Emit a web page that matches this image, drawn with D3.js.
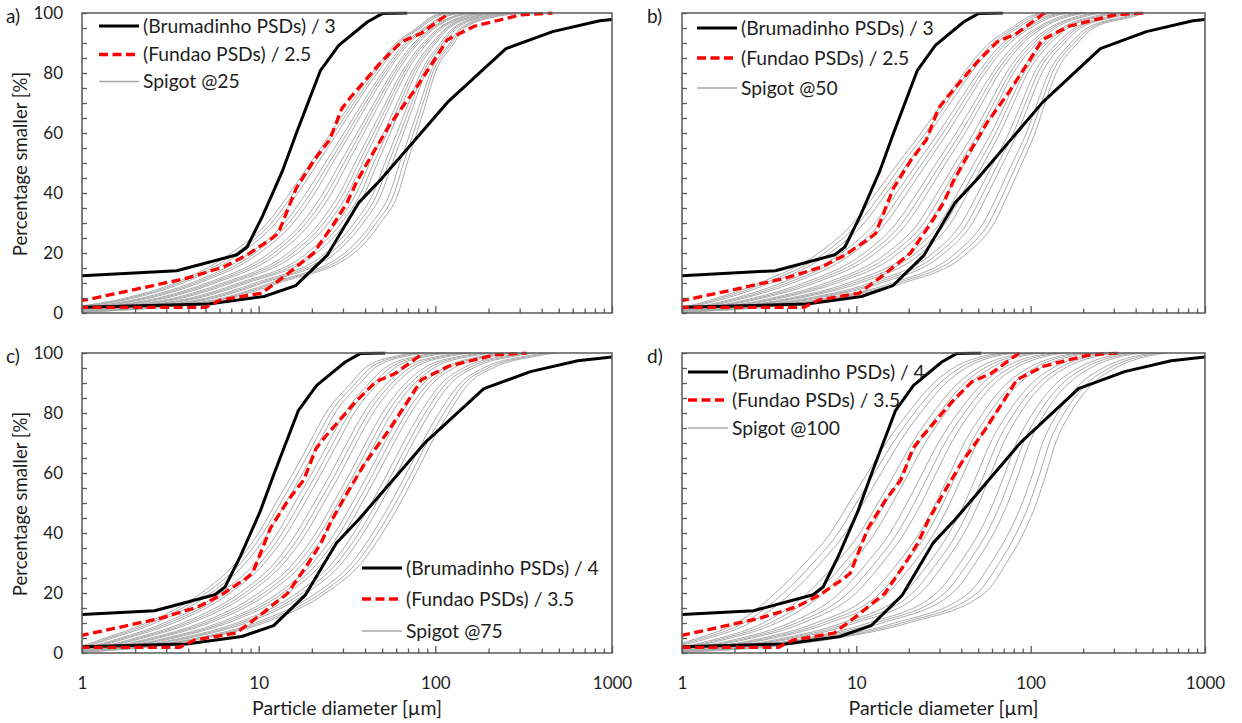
<!DOCTYPE html>
<html><head><meta charset="utf-8">
<script src="https://cdn.jsdelivr.net/npm/d3@7"></script>
<style>
html,body{margin:0;padding:0;background:#fff;}
svg text{font-family:Lato,"Open Sans",sans-serif;fill:#1e1e1e;}
</style></head><body>
<svg id="chart" width="1242" height="723"></svg>
<script>
// ---------------- DATA ----------------
// Base (undivided) PSDs: diameters [µm] and percentage smaller [%]
const brumFineD   = [1, 3, 10.3, 22.6, 25.8, 31.5, 40.8, 49.5, 67.2, 85.2, 123.6, 150, 208];
const brumFineP   = [11.0, 12.4, 14.1, 19.4, 22, 32.2, 47.2, 60.6, 80.9, 89.2, 97, 99.8, 100];
const brumCoarseD = [1, 3, 15.6, 32.1, 48.6, 73.2, 110.7, 147, 351, 753, 1383, 2559, 4000];
const brumCoarseP = [1.3, 1.9, 3.0, 5.5, 9.1, 19.2, 36.8, 44.4, 70.2, 88.1, 93.8, 97.4, 98.7];
const fundFineD   = [1, 2.5, 4.7, 9.8, 15.9, 21.5, 29.8, 32.3, 40.8, 51.5, 63, 74, 82, 124, 161, 208, 300];
const fundFineP   = [3.0, 4.1, 7.5, 11.6, 15.4, 19.3, 24.9, 26.6, 41.6, 51, 57.7, 68.2, 71.6, 83.8, 90.4, 93.2, 100];
const fundCoarseD = [1, 2.5, 12.5, 15.2, 26, 36, 51, 67, 79, 90, 108, 140, 189, 245, 292, 415, 762, 1150];
const fundCoarseP = [1.5, 1.9, 1.9, 4.3, 6.6, 12.8, 19.9, 30, 36.7, 43.9, 52.2, 63.3, 73.9, 84, 91.1, 95.6, 99.4, 100];

// Divisors shown in the legends
const brumDivisors = [3, 3, 4, 4];
const fundDivisors = [2.5, 2.5, 3.5, 3.5];

// Spigot curves: diameter [µm] at which each percentage level is reached
const spigotPct = [0.3, 2, 5, 10, 20, 30, 40, 50, 60, 70, 80, 90, 95, 99, 100];

const spigot25 = [
 [.398,.891,1.77,3.36,7.0,11.2,15.0,19.6,25.6,33.3,44.0,60.0,78.5,97,110],
 [.412,.934,1.87,3.54,7.45,11.8,15.8,20.6,26.7,34.6,45.4,61.8,80.4,100,115],
 [.427,.977,1.97,3.73,7.92,12.5,16.7,21.6,27.9,35.9,46.9,63.6,82.3,104,120],
 [.458,1.07,2.19,4.14,8.95,14.0,18.6,23.8,30.4,38.7,49.9,67.4,86.4,111,131],
 [.474,1.12,2.31,4.36,9.52,14.8,19.7,25.0,31.8,40.2,51.5,69.4,88.5,114,137],
 [.491,1.17,2.43,4.59,10.1,15.7,20.8,26.2,33.2,41.7,53.1,71.5,90.6,118,144],
 [.527,1.29,2.70,5.10,11.5,17.6,23.2,28.9,36.1,45.0,56.6,75.7,95.0,127,157],
 [.546,1.35,2.85,5.38,12.2,18.6,24.5,30.4,37.7,46.7,58.4,78.0,97.3,131,164],
 [.566,1.41,3.0,5.66,13.0,19.7,25.9,31.9,39.4,48.5,60.3,80.3,99.7,135,172],
 [.607,1.55,3.33,6.28,14.7,22.1,28.8,35.1,42.9,52.3,64.2,85.1,105,145,188],
 [.629,1.62,3.51,6.62,15.6,23.4,30.4,36.9,44.8,54.3,66.2,87.6,107,150,196],
 [.651,1.70,3.70,6.97,16.6,24.8,32.1,38.7,46.8,56.4,68.3,90.2,110,155,205],
 [.699,1.86,4.11,7.74,18.8,27.7,35.8,42.6,51.0,60.8,72.8,95.6,115,165,224],
 [.724,1.95,4.33,8.16,20.0,29.4,37.9,44.8,53.3,63.1,75.1,98.3,117,171,234],
 [.750,2.04,4.56,8.59,21.2,31.1,40.0,47.0,55.6,65.5,77.5,101,120,177,245],
 [.804,2.23,5.07,9.53,24.0,34.8,44.6,51.8,60.6,70.6,82.5,107,126,189,268],
 [.833,2.34,5.35,10.1,25.6,36.9,47.1,54.4,63.3,73.3,85.2,110,129,195,280],
 [.863,2.45,5.63,10.6,27.2,39.0,49.7,57.1,66.0,76.1,87.9,114,133,202,293],
 [.926,2.68,6.26,11.7,30.7,43.7,55.4,62.9,72.0,82.1,93.6,121,139,216,320],
 [.960,2.81,6.60,12.3,32.7,46.3,58.6,66.1,75.2,85.3,96.6,124,142,223,333],
 [.994,2.94,6.95,13.0,34.7,48.9,61.8,69.3,78.5,88.5,99.7,128,146,231,347]
];
const spigot50 = [
 [.355,1.0,1.59,2.77,6.08,9.6,13.0,17.4,23.5,31.2,41.4,58,77.4,100,130],
 [.370,1.04,1.69,2.99,6.57,10.3,14.0,18.5,25.0,32.9,43.4,60.7,80.7,105,136],
 [.384,1.09,1.80,3.21,7.07,11.1,14.9,19.7,26.4,34.6,45.5,63.5,84.1,111,143],
 [.416,1.19,2.03,3.71,8.22,12.8,17.0,22.4,29.6,38.4,49.9,69.4,91.5,124,157],
 [.434,1.24,2.16,4.00,8.89,13.8,18.2,23.9,31.4,40.5,52.3,72.6,95.4,131,165],
 [.451,1.30,2.29,4.30,9.56,14.8,19.5,25.4,33.3,42.7,54.8,75.9,99.4,138,173],
 [.488,1.41,2.58,4.98,11.1,17.0,22.3,28.8,37.4,47.4,60.2,83.1,108,153,190],
 [.508,1.47,2.74,5.37,12.0,18.3,23.9,30.7,39.7,50.0,63.1,87.0,112,161,199],
 [.529,1.54,2.91,5.77,12.9,19.6,25.5,32.6,42.0,52.6,66.1,90.9,117,170,209],
 [.573,1.68,3.29,6.68,15.0,22.7,29.1,37.0,47.1,58.4,72.5,99.4,128,189,230],
 [.596,1.75,3.50,7.20,16.2,24.4,31.2,39.4,50.0,61.6,76.0,104,133,199,241],
 [.620,1.83,3.71,7.73,17.5,26.1,33.3,41.9,52.9,64.8,79.6,109,139,210,253],
 [.672,1.99,4.19,8.95,20.3,30.2,38.1,47.6,59.4,71.9,87.4,119,151,234,279],
 [.700,2.08,4.46,9.67,22.0,32.5,40.8,50.7,63.0,75.8,91.7,124,157,247,293],
 [.728,2.17,4.73,10.4,23.7,34.8,43.6,53.9,66.7,79.8,96.0,130,164,260,307],
 [.788,2.37,5.34,12.0,27.5,40.2,49.9,61.2,74.9,88.6,105,142,179,289,337],
 [.820,2.47,5.68,12.9,29.7,43.3,53.5,65.3,79.5,93.4,110,149,186,305,354],
 [.853,2.58,6.03,13.9,32.0,46.4,57.1,69.4,84.1,98.3,116,156,194,322,371],
 [.924,2.81,6.81,16.1,37.2,53.5,65.3,78.6,94.5,109,127,170,211,358,408],
 [.962,2.94,7.25,17.3,40.2,57.6,70.0,83.9,100,115,133,178,220,378,428],
 [1.0,3.07,7.69,18.6,43.3,61.8,74.7,89.2,106,121,140,186,230,398,449]
];
const spigot75 = [
 [.398,.933,1.35,2.31,4.74,7.43,10.0,12.5,15.7,19.4,24.0,33.4,40,60,80],
 [.412,.966,1.42,2.45,5.05,7.93,10.6,13.3,16.7,20.6,25.5,35.5,42.7,64.5,85.9],
 [.427,1.00,1.49,2.60,5.37,8.43,11.3,14.2,17.8,21.9,27.1,37.6,45.5,69.1,91.8],
 [.458,1.07,1.65,2.92,6.08,9.56,12.8,16.0,20.1,24.8,30.7,42.3,51.7,79.6,105],
 [.474,1.11,1.73,3.10,6.48,10.2,13.6,17.1,21.4,26.4,32.7,45.0,55.2,85.6,113],
 [.491,1.15,1.82,3.29,6.89,10.8,14.5,18.2,22.7,28.0,34.7,47.7,58.8,91.7,121],
 [.527,1.24,2.01,3.70,7.81,12.3,16.4,20.6,25.7,31.6,39.3,53.7,66.8,106,139],
 [.546,1.28,2.11,3.93,8.33,13.1,17.5,21.9,27.4,33.6,41.8,57.0,71.4,114,149],
 [.566,1.33,2.22,4.16,8.85,13.9,18.6,23.3,29.1,35.7,44.4,60.4,76.0,122,159],
 [.607,1.42,2.46,4.68,10.0,15.8,21.1,26.4,32.9,40.4,50.2,68.0,86.4,140,183],
 [.629,1.47,2.58,4.97,10.7,16.8,22.4,28.1,35.0,43.0,53.5,72.3,92.3,150,196],
 [.651,1.53,2.71,5.27,11.4,17.9,23.8,29.9,37.2,45.6,56.8,76.6,98.2,161,210],
 [.699,1.64,3.00,5.93,12.9,20.3,27.0,33.9,42.0,51.6,64.3,86.3,112,186,241],
 [.724,1.70,3.15,6.30,13.7,21.6,28.8,36.1,44.7,54.9,68.5,91.7,119,200,259],
 [.750,1.76,3.31,6.67,14.6,23.0,30.6,38.4,47.5,58.3,72.7,97.1,127,214,277],
 [.804,1.89,3.66,7.50,16.5,26.1,34.6,43.5,53.8,65.8,82.2,109,144,247,318],
 [.833,1.95,3.85,7.97,17.6,27.8,36.9,46.4,57.3,70.1,87.6,116,154,265,341],
 [.863,2.02,4.04,8.44,18.7,29.6,39.2,49.3,60.8,74.4,93.0,123,164,284,365],
 [.926,2.17,4.47,9.50,21.2,33.6,44.3,55.9,68.8,84.1,105,139,187,327,419],
 [.960,2.25,4.70,10.1,22.6,35.8,47.2,59.6,73.3,89.5,112,147,199,352,450],
 [.994,2.33,4.93,10.7,24.0,38.1,50.2,63.3,77.8,95.0,119,156,212,377,481]
];
const spigot100 = [
 [.355,.794,1.24,2.06,3.43,5.08,7.1,9.08,11.6,14.8,19.8,27.8,36,54,75],
 [.370,.837,1.33,2.25,3.83,5.65,7.87,10.0,12.7,16.2,21.5,30.2,39.2,58.9,81.5],
 [.386,.881,1.43,2.45,4.24,6.23,8.64,11.0,13.9,17.6,23.3,32.7,42.4,63.8,88.1],
 [.420,.977,1.65,2.92,5.25,7.65,10.5,13.3,16.7,20.9,27.5,38.4,50.0,75.4,103],
 [.438,1.03,1.77,3.19,5.87,8.51,11.6,14.7,18.3,22.8,30.0,41.8,54.5,82.3,112],
 [.456,1.08,1.90,3.47,6.49,9.38,12.8,16.1,20.0,24.8,32.5,45.2,59.0,89.2,121],
 [.496,1.20,2.19,4.13,8.03,11.5,15.6,19.5,24.0,29.5,38.3,53.2,69.6,105,142],
 [.518,1.26,2.36,4.52,8.98,12.8,17.2,21.5,26.3,32.2,41.7,57.8,75.8,114,154],
 [.539,1.33,2.53,4.92,9.94,14.1,18.9,23.6,28.7,35.0,45.1,62.5,82.0,124,167],
 [.586,1.48,2.91,5.85,12.3,17.3,23.0,28.5,34.5,41.6,53.2,73.5,96.7,147,196],
 [.612,1.56,3.13,6.40,13.7,19.3,25.5,31.5,37.9,45.5,58.0,80.0,105,160,213],
 [.637,1.64,3.36,6.96,15.2,21.3,28.0,34.5,41.3,49.4,62.8,86.5,114,174,230],
 [.692,1.82,3.87,8.29,18.8,26.1,34.1,41.8,49.6,58.7,74.0,102,134,205,270],
 [.722,1.92,4.17,9.07,21.0,29.0,37.8,46.1,54.5,64.2,80.6,111,146,224,293],
 [.753,2.02,4.47,9.86,23.3,32.0,41.5,50.5,59.4,69.8,87.2,120,158,243,317],
 [.818,2.24,5.15,11.7,28.8,39.3,50.5,61.1,71.3,82.9,103,141,187,287,372],
 [.854,2.36,5.54,12.8,32.2,43.7,56.0,67.5,78.4,90.7,112,153,203,313,404],
 [.889,2.48,5.94,14.0,35.6,48.2,61.5,74.0,85.5,98.5,121,166,220,339,437],
 [.967,2.75,6.85,16.6,44.1,59.2,74.8,89.5,103,117,143,195,260,401,513],
 [1.01,2.90,7.37,18.2,49.3,65.9,82.9,98.7,113,128,156,212,283,437,557],
 [1.05,3.05,7.90,19.8,54.5,72.6,91.0,108,123,139,169,229,306,474,602]
];

const spigotLabels = ["Spigot @25", "Spigot @50", "Spigot @75", "Spigot @100"];
const panelTags = ["a)", "b)", "c)", "d)"];
const xTickLabels = [1, 10, 100, 1000];
const yTickLabels = [0, 20, 40, 60, 80, 100];
const xTitle = "Particle diameter [µm]";
const yTitle = "Percentage smaller [%]";

// ---------------- LAYOUT ----------------
const panels = [
 {x0:82, x1:612, y0:13, y1:313, yLab:true, xLab:false, tagX:6, tagY:16,
  lgX:99, lgY:[26,54.5,81.5], spigot:spigot25},
 {x0:682, x1:1205, y0:13, y1:313, yLab:false, xLab:false, tagX:647, tagY:16,
  lgX:697, lgY:[28,58,88], spigot:spigot50},
 {x0:82, x1:612, y0:353, y1:653, yLab:true, xLab:true, tagX:6, tagY:356,
  lgX:362, lgY:[568,599,631], spigot:spigot75},
 {x0:682, x1:1205, y0:353, y1:653, yLab:false, xLab:true, tagX:647, tagY:356,
  lgX:688, lgY:[372,400,428], spigot:spigot100}
];

const svg = d3.select("#chart");
const defs = svg.append("defs");
const TICKFONT = 17, LEGFONT = 19.3, XTFONT = 19.5, YTFONT = 18.6, TAGFONT = 19;
const axisCol = "#595959";

const minorTicks = [];
for (let e = 0; e < 3; e++) for (let m = 2; m <= 9; m++) minorTicks.push(m * Math.pow(10, e));

panels.forEach((P, i) => {
  const x = d3.scaleLog().domain([1, 1000]).range([P.x0, P.x1]);
  const y = d3.scaleLinear().domain([0, 100]).range([P.y1, P.y0]);
  const g = svg.append("g");
  const cid = "clip" + i;
  defs.append("clipPath").attr("id", cid).append("rect")
    .attr("x", P.x0).attr("y", P.y0 - 1.5).attr("width", P.x1 - P.x0).attr("height", P.y1 - P.y0 + 1.5);

  const plot = g.append("g").attr("clip-path", `url(#${cid})`);
  const lineXY = d3.line().x(d => x(d[0])).y(d => y(d[1]));
  const smooth = d3.line().x(d => x(d[0])).y(d => y(d[1])).curve(d3.curveMonotoneX);

  // spigot curves
  P.spigot.forEach(c => {
    plot.append("path").attr("d", smooth(c.map((dv, k) => [dv, spigotPct[k]])))
      .attr("fill", "none").attr("stroke", "#ababab").attr("stroke-width", 1);
  });
  const bd = brumDivisors[i], fd = fundDivisors[i];
  [[brumFineD, brumFineP], [brumCoarseD, brumCoarseP]].forEach(([D, Pc]) => {
    plot.append("path").attr("d", lineXY(D.map((v, k) => [v / bd, Pc[k]])))
      .attr("fill", "none").attr("stroke", "#000").attr("stroke-width", 3)
      .attr("stroke-linejoin", "round");
  });
  [[fundFineD, fundFineP], [fundCoarseD, fundCoarseP]].forEach(([D, Pc]) => {
    plot.append("path").attr("d", lineXY(D.map((v, k) => [v / fd, Pc[k]])))
      .attr("fill", "none").attr("stroke", "#ff0000").attr("stroke-width", 3.3)
      .attr("stroke-dasharray", "9,4.5");
  });

  // frame
  g.append("rect").attr("x", P.x0).attr("y", P.y0).attr("width", P.x1 - P.x0).attr("height", P.y1 - P.y0)
    .attr("fill", "none").attr("stroke", axisCol).attr("stroke-width", 1.5);

  // y axis ticks (inward)
  const ya = g.append("g").attr("transform", `translate(${P.x0},0)`)
    .call(d3.axisLeft(y).tickValues(d3.range(0, 101, 5)).tickSize(-5).tickSizeOuter(0).tickPadding(19)
      .tickFormat(d => (P.yLab && yTickLabels.includes(d)) ? d : ""));
  ya.select(".domain").remove();
  ya.selectAll(".tick line").attr("stroke", axisCol).attr("stroke-width", 1.3);
  ya.selectAll(".tick text").style("font-size", TICKFONT + "px").attr("fill", "#1e1e1e").attr("font-family", null);

  // x axis minor ticks
  const xm = g.append("g").attr("transform", `translate(0,${P.y1})`)
    .call(d3.axisBottom(x).tickValues(minorTicks).tickSize(-4.5).tickSizeOuter(0).tickFormat(""));
  xm.select(".domain").remove();
  xm.selectAll(".tick line").attr("stroke", axisCol).attr("stroke-width", 1.3);
  // x axis major ticks
  const xa = g.append("g").attr("transform", `translate(0,${P.y1})`)
    .call(d3.axisBottom(x).tickValues(xTickLabels).tickSize(-7).tickSizeOuter(0).tickPadding(24)
      .tickFormat(d => P.xLab ? d : ""));
  xa.select(".domain").remove();
  xa.selectAll(".tick line").attr("stroke", axisCol).attr("stroke-width", 1.3);
  xa.selectAll(".tick text").style("font-size", TICKFONT + "px").attr("fill", "#1e1e1e").attr("font-family", null);

  if (P.yLab) {
    g.append("text").attr("transform", `translate(20,${(P.y0 + P.y1) / 2 + 1}) rotate(-90)`)
      .attr("text-anchor", "middle").attr("dy", "0.35em").style("font-size", YTFONT + "px").text(yTitle);
  }
  if (P.xLab) {
    g.append("text").attr("x", (P.x0 + P.x1) / 2).attr("y", 708).attr("dy", "0.35em")
      .attr("text-anchor", "middle").style("font-size", XTFONT + "px").text(xTitle);
  }
  g.append("text").attr("x", P.tagX).attr("y", P.tagY).attr("dy", "0.35em")
    .style("font-size", TAGFONT + "px").text(panelTags[i]);

  // legend
  const lg = g.append("g");
  const labels = [`(Brumadinho PSDs) / ${bd}`, `(Fundao PSDs) / ${fd}`, spigotLabels[i]];
  const styles = [
    {c:"#000", w:3, da:null},
    {c:"#ff0000", w:3.3, da:"9,4.5"},
    {c:"#a9a9a9", w:1.3, da:null}
  ];
  labels.forEach((t, k) => {
    const yy = P.lgY[k];
    lg.append("line").attr("x1", P.lgX).attr("x2", P.lgX + 40).attr("y1", yy).attr("y2", yy)
      .attr("stroke", styles[k].c).attr("stroke-width", styles[k].w)
      .attr("stroke-dasharray", styles[k].da);
    lg.append("text").attr("x", P.lgX + 44).attr("y", yy).attr("dy", "0.35em")
      .style("font-size", LEGFONT + "px").text(t);
  });
});
</script>
</body></html>
